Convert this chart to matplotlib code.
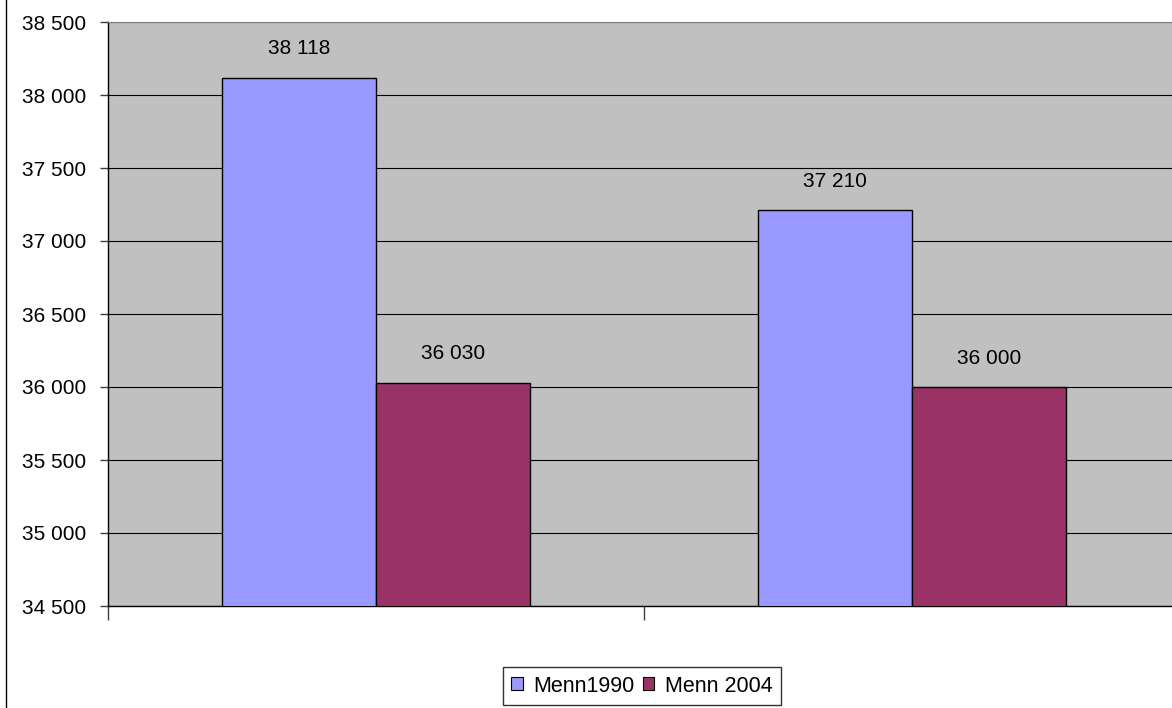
import matplotlib.pyplot as plt
from matplotlib.patches import Patch
from matplotlib.lines import Line2D
import numpy as np

plt.rcParams['font.family'] = ['Liberation Sans', 'DejaVu Sans']

categories = ['', '']
series_names = ['Menn1990', 'Menn 2004']
menn1990 = [38118, 37210]
menn2004 = [36030, 36000]
colors = ['#9999FF', '#993366']
yticks = [34500, 35000, 35500, 36000, 36500, 37000, 37500, 38000, 38500]


def fmt(v):
    return f'{v:,.0f}'.replace(',', ' ')


fig = plt.figure(figsize=(11.72, 7.08), dpi=100)
# plot area runs past the right edge, like the original
ax = fig.add_axes([108 / 1172, 1 - 606 / 708, 1072 / 1172, 584 / 708])
ax.set_facecolor('#C0C0C0')

x = np.arange(len(categories))
w = 0.287
b1 = ax.bar(x - w / 2, menn1990, w, color=colors[0], edgecolor='black', linewidth=1, zorder=3)
b2 = ax.bar(x + w / 2, menn2004, w, color=colors[1], edgecolor='black', linewidth=1, zorder=3)

for bars, vals in ((b1, menn1990), (b2, menn2004)):
    for bar, v in zip(bars, vals):
        ax.annotate(fmt(v), (bar.get_x() + bar.get_width() / 2, v),
                    xytext=(0, 14), textcoords='offset points',
                    ha='center', va='bottom', fontsize=15)

ax.set_xlim(-0.5, len(categories) - 0.5)
ax.set_ylim(34500, 38500)
ax.set_yticks(yticks)
ax.set_yticklabels([fmt(t) for t in yticks], fontsize=15)
ax.yaxis.grid(True, color='black', linewidth=0.8, zorder=0)
ax.set_axisbelow(True)

ax.set_xticks(np.arange(-0.5, len(categories), 1.0))
ax.set_xticklabels([])
ax.tick_params(axis='x', direction='out', length=10, width=1, color='#404040')
ax.tick_params(axis='y', direction='out', length=6, width=1, color='#404040', pad=10)

for s in ('left', 'bottom'):
    ax.spines[s].set_color('black')
    ax.spines[s].set_linewidth(1)
ax.spines['top'].set_color('#808080')
ax.spines['right'].set_visible(False)

# chart border on the left
fig.add_artist(Line2D([6 / 1172, 6 / 1172], [0, 1], color='black', linewidth=1))

handles = [Patch(facecolor=c, edgecolor='black', linewidth=0.8) for c in colors]
leg = fig.legend(handles, series_names, loc='center',
                 bbox_to_anchor=(642 / 1172, 1 - 686 / 708), ncol=2,
                 fontsize=15.5, frameon=True, fancybox=False,
                 handlelength=0.55, handleheight=0.55, handletextpad=0.5,
                 columnspacing=0.35, borderpad=0.4, borderaxespad=0)
leg.get_frame().set_edgecolor('black')
leg.get_frame().set_linewidth(1)

fig.savefig('out.png', dpi=100)
